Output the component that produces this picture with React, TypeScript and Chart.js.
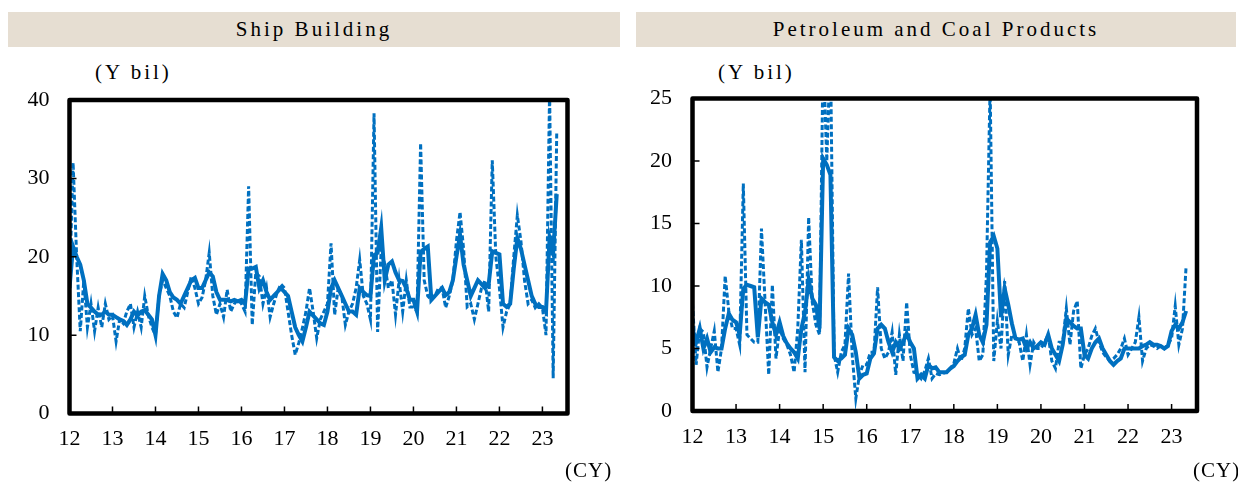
import React, { useEffect, useRef } from "react";
import { Chart, registerables } from "chart.js";

Chart.register(...registerables);

// Year tick labels (calendar years, 2-digit)
const yearLabels = ["12", "13", "14", "15", "16", "17", "18", "19", "20", "21", "22", "23"];

// Ship Building, monthly values (Y bil), Jan 2012 - May 2023 (dashed)
const shipMonthly = [
  16, 32, 20, 10.5, 17, 11, 14, 10.5, 13.5, 11, 14, 12,
  12.5, 9.2, 12, 11.5, 13, 14, 11, 13, 11, 15, 12.5, 11,
  10, 15, 17, 16, 15, 13, 12.2, 14, 13.5, 15.5, 17.5, 16,
  14, 14.8, 17, 20.5, 15, 12.6, 14, 12.3, 15.8, 13, 14, 14.5,
  14, 13, 29, 11.3, 18, 17.5, 14, 16, 12.3, 14, 15.5, 16.5,
  16, 13, 10, 7.5, 9, 10.9, 13, 16, 13, 9.6, 12, 13,
  14, 21.7, 12.6, 16, 15, 11.3, 13, 14, 16, 19.6, 15, 14,
  12, 38.3, 10.4, 21, 19, 16, 17, 12.6, 17, 13, 17, 13.6,
  13.6, 13, 34.5, 17, 15, 14.5, 15, 16, 16, 13.5, 15, 17,
  22, 25.7, 21, 13.6, 14, 12, 14, 16, 17, 13, 32.3, 20,
  16, 11, 13, 14, 20, 25.3, 22, 17, 14, 14.5, 13.5, 14,
  13.5, 10, 41, 4.5, 36,
];

// Ship Building, smoothed series (solid)
const shipTrend = [
  16, 21.3, 20, 19, 17, 14, 13.5, 13, 12.6, 12.6, 13, 12.6,
  12.6, 12.3, 12, 11.8, 11.3, 12, 13, 12.5, 13, 13.2, 12.6, 12,
  10, 15, 17.8, 17, 15.5, 14.8, 14.5, 14, 15, 16, 17, 17.3,
  16, 16, 17, 18, 17.5, 15.5, 14.5, 14.5, 14.5, 14.3, 14.5, 14.3,
  14.5, 14, 18.5, 18.5, 18.7, 16, 17, 15.5, 14.5, 15, 15.5, 16,
  15.5, 15, 13, 11, 10, 9.2, 11, 13, 12.5, 12, 11.5, 11.3,
  13, 16, 17, 16, 15, 14, 13, 13, 12.6, 16, 15.5, 15.1,
  15, 20.2, 20.5, 23.7, 17, 19, 19.4, 18, 17, 16.9, 16, 14.5,
  14.5, 13, 20.6, 21, 21.3, 14.5, 15, 15.5, 16, 15.1, 15.5, 17,
  20, 22.8, 19, 17, 15, 16, 17, 16.5, 16, 16.5, 20.7, 20.5,
  20.3, 14, 13.6, 14, 18.5, 22.4, 21, 19, 17, 15, 14, 13.6,
  13.6, 13, 22.4, 20.5, 28,
];

// Petroleum and Coal Products, monthly values (dashed)
const petroMonthly = [
  8.6, 3.7, 6.6, 6.3, 3.5, 5, 6.4, 3.1, 5, 10.8, 8, 6.6,
  6.6, 5.3, 18.2, 6.1, 5.8, 5.5, 5.5, 14.6, 8.7, 2.9, 10.1, 4.2,
  6.6, 5.8, 5.3, 4.5, 3.1, 6.6, 13.7, 3.1, 15.5, 8.7, 6.9, 6.1,
  29, 20, 29, 4.5, 3.1, 4.7, 5.3, 11, 4.5, 1, 2.9, 3.7,
  3.7, 4.7, 4.7, 9.9, 5, 4.2, 4.7, 6.3, 2.9, 6.1, 4, 8.7,
  4.5, 3.1, 3, 2.6, 3.2, 4.2, 2.6, 3, 2.9, 3, 3.1, 3.4,
  3.8, 5, 4, 5, 8.2, 6.1, 6.6, 4, 4.5, 11, 26, 4,
  7.2, 5, 10.4, 4.5, 6.1, 5.8, 5.5, 4, 6.1, 3.7, 5.5, 5,
  5, 5.5, 6.1, 4, 3.4, 5.5, 5.5, 8.2, 5.3, 8, 8.8, 3.4,
  4.5, 5, 6, 6.6, 5.5, 4.7, 4.3, 4, 4.2, 4.5, 5, 5.8,
  4.5, 5, 5.5, 7.5, 4, 5, 5.3, 5.2, 5, 5.2, 5, 5.3,
  5.8, 8.4, 5.3, 6.6, 11.6,
];

// Petroleum and Coal Products, smoothed series (solid)
const petroTrend = [
  6.6, 5.5, 6.6, 5, 5.8, 4.7, 5.1, 5, 5, 6.6, 7.8, 7.3,
  7.1, 6.1, 9.8, 10.1, 10, 9.9, 5.9, 9, 8.7, 8.5, 7.1, 6.1,
  7.1, 6, 5.4, 5, 4.7, 4.2, 6.6, 7.9, 10.5, 9, 8.5, 6.6,
  20.2, 19.7, 18.9, 4.3, 4, 4.2, 4.5, 6.6, 6.1, 4.7, 2.6, 2.9,
  3, 4.2, 4.6, 6.6, 6.9, 6.6, 5.5, 4.7, 5.5, 5, 5.5, 6.2,
  5.5, 5, 2.6, 2.9, 2.6, 3.7, 3.4, 3.5, 3.1, 3.1, 3.1, 3.4,
  3.6, 4, 4.3, 4.5, 6.1, 6.6, 7.7, 6.1, 5.5, 6.9, 13.5, 14,
  13, 7.5, 9.8, 8.5, 7, 5.8, 5.7, 5.8, 5, 5.5, 5, 5.2,
  5.5, 5.3, 6.1, 5, 4.5, 4, 5.3, 7.4, 7.1, 6.8, 6.6, 6.6,
  4.5, 4.2, 5, 5.5, 5.8, 5, 4.5, 4, 3.7, 4, 4.2, 5,
  5, 5, 5, 5, 5.2, 5.3, 5.5, 5.3, 5.3, 5.2, 5, 5.2,
  6.4, 6.9, 6.6, 7.1, 8,
];

const BLUE = "#0070C0";
const FONT = "'Liberation Serif', 'DejaVu Serif', serif";

const toPoints = (vals: number[]) => vals.map((v, i) => ({ x: i, y: v }));

const framePlugin = {
  id: "frame",
  afterDatasetsDraw(chart: any) {
    const { ctx, chartArea: a, scales } = chart;
    ctx.save();
    ctx.strokeStyle = "#000";
    ctx.lineWidth = 1.5;
    ctx.beginPath();
    scales.x.ticks.forEach((t: any) => {
      if (t.value <= 0) return;
      const px = scales.x.getPixelForValue(t.value);
      ctx.moveTo(px, a.bottom);
      ctx.lineTo(px, a.bottom - 7);
    });
    scales.y.ticks.forEach((t: any) => {
      const py = scales.y.getPixelForValue(t.value);
      ctx.moveTo(a.left, py);
      ctx.lineTo(a.left + 7, py);
    });
    ctx.stroke();
    ctx.lineWidth = 4.5;
    ctx.lineJoin = "round";
    ctx.strokeRect(a.left, a.top, a.right - a.left, a.bottom - a.top);
    ctx.restore();
  },
};

function makeChart(
  canvas: HTMLCanvasElement,
  monthly: number[],
  trend: number[],
  yMax: number,
  yStep: number,
  pad: { top: number; right: number; bottom: number },
  yWidth: number,
  yPad: number
) {
  const yearTicks = yearLabels.map((_, i) => i * 12);
  return new Chart(canvas, {
    type: "line",
    data: {
      datasets: [
        {
          data: toPoints(trend),
          borderColor: BLUE,
          borderWidth: 4,
          pointRadius: 0,
          tension: 0,
        },
        {
          data: toPoints(monthly),
          borderColor: BLUE,
          borderWidth: 3,
          borderDash: [5, 2.5],
          pointRadius: 0,
          tension: 0,
        },
      ],
    },
    options: {
      responsive: false,
      animation: false,
      layout: { padding: { top: pad.top, right: pad.right, bottom: pad.bottom, left: 0 } },
      plugins: { legend: { display: false }, tooltip: { enabled: false } },
      scales: {
        x: {
          type: "linear",
          min: 0,
          max: 139,
          grid: { display: false, drawTicks: false },
          border: { display: false },
          afterBuildTicks: (s: any) => {
            s.ticks = yearTicks.map((v) => ({ value: v }));
          },
          afterFit: (s: any) => {
            s.height = 40;
          },
          ticks: {
            autoSkip: false,
            maxRotation: 0,
            padding: 13,
            color: "#000",
            font: { family: FONT, size: 22 },
            callback: (v: any) => yearLabels[Math.round(Number(v) / 12)] ?? "",
          },
        },
        y: {
          min: 0,
          max: yMax,
          grid: { display: false, drawTicks: false },
          border: { display: false },
          afterFit: (s: any) => {
            s.width = yWidth;
          },
          ticks: {
            stepSize: yStep,
            padding: yPad,
            color: "#000",
            font: { family: FONT, size: 22 },
          },
        },
      },
    },
    plugins: [framePlugin],
  } as any);
}

const titleStyle = (left: number, width: number): React.CSSProperties => ({
  position: "absolute",
  left,
  top: 12,
  width,
  height: 35,
  background: "#E6DED2",
  fontFamily: FONT,
  fontSize: 21,
  letterSpacing: "3px",
  lineHeight: "35px",
  textAlign: "center",
  color: "#000",
});

const noteStyle = (left: number, top: number, spacing: number): React.CSSProperties => ({
  position: "absolute",
  left,
  top,
  fontFamily: FONT,
  fontSize: 21,
  letterSpacing: `${spacing}px`,
  lineHeight: "24px",
  color: "#000",
  whiteSpace: "nowrap",
});

export default function App() {
  const leftRef = useRef<HTMLCanvasElement>(null);
  const rightRef = useRef<HTMLCanvasElement>(null);

  useEffect(() => {
    const c1 = makeChart(leftRef.current!, shipMonthly, shipTrend, 40, 10,
      { top: 100, right: 57.5, bottom: 28.5 }, 69.5, 20);
    const c2 = makeChart(rightRef.current!, petroMonthly, petroTrend, 25, 5,
      { top: 98.5, right: 41, bottom: 31 }, 72.5, 20.5);
    return () => {
      c1.destroy();
      c2.destroy();
    };
  }, []);

  return (
    <div
      style={{
        position: "fixed",
        left: 0,
        top: 0,
        width: 1238,
        height: 482,
        background: "#fff",
        overflow: "hidden",
      }}
    >
      <div style={titleStyle(8, 612)}>Ship Building</div>
      <div style={titleStyle(636, 600)}>Petroleum and Coal Products</div>
      <div style={noteStyle(95, 60, 3)}>(Y bil)</div>
      <div style={noteStyle(718, 60, 3)}>(Y bil)</div>
      <canvas
        ref={leftRef}
        width={625}
        height={482}
        style={{ position: "absolute", left: 0, top: 0 }}
      />
      <canvas
        ref={rightRef}
        width={618}
        height={482}
        style={{ position: "absolute", left: 620, top: 0 }}
      />
      <div style={noteStyle(565, 458, 1)}>(CY)</div>
      <div style={noteStyle(1193, 458, 1)}>(CY)</div>
    </div>
  );
}
